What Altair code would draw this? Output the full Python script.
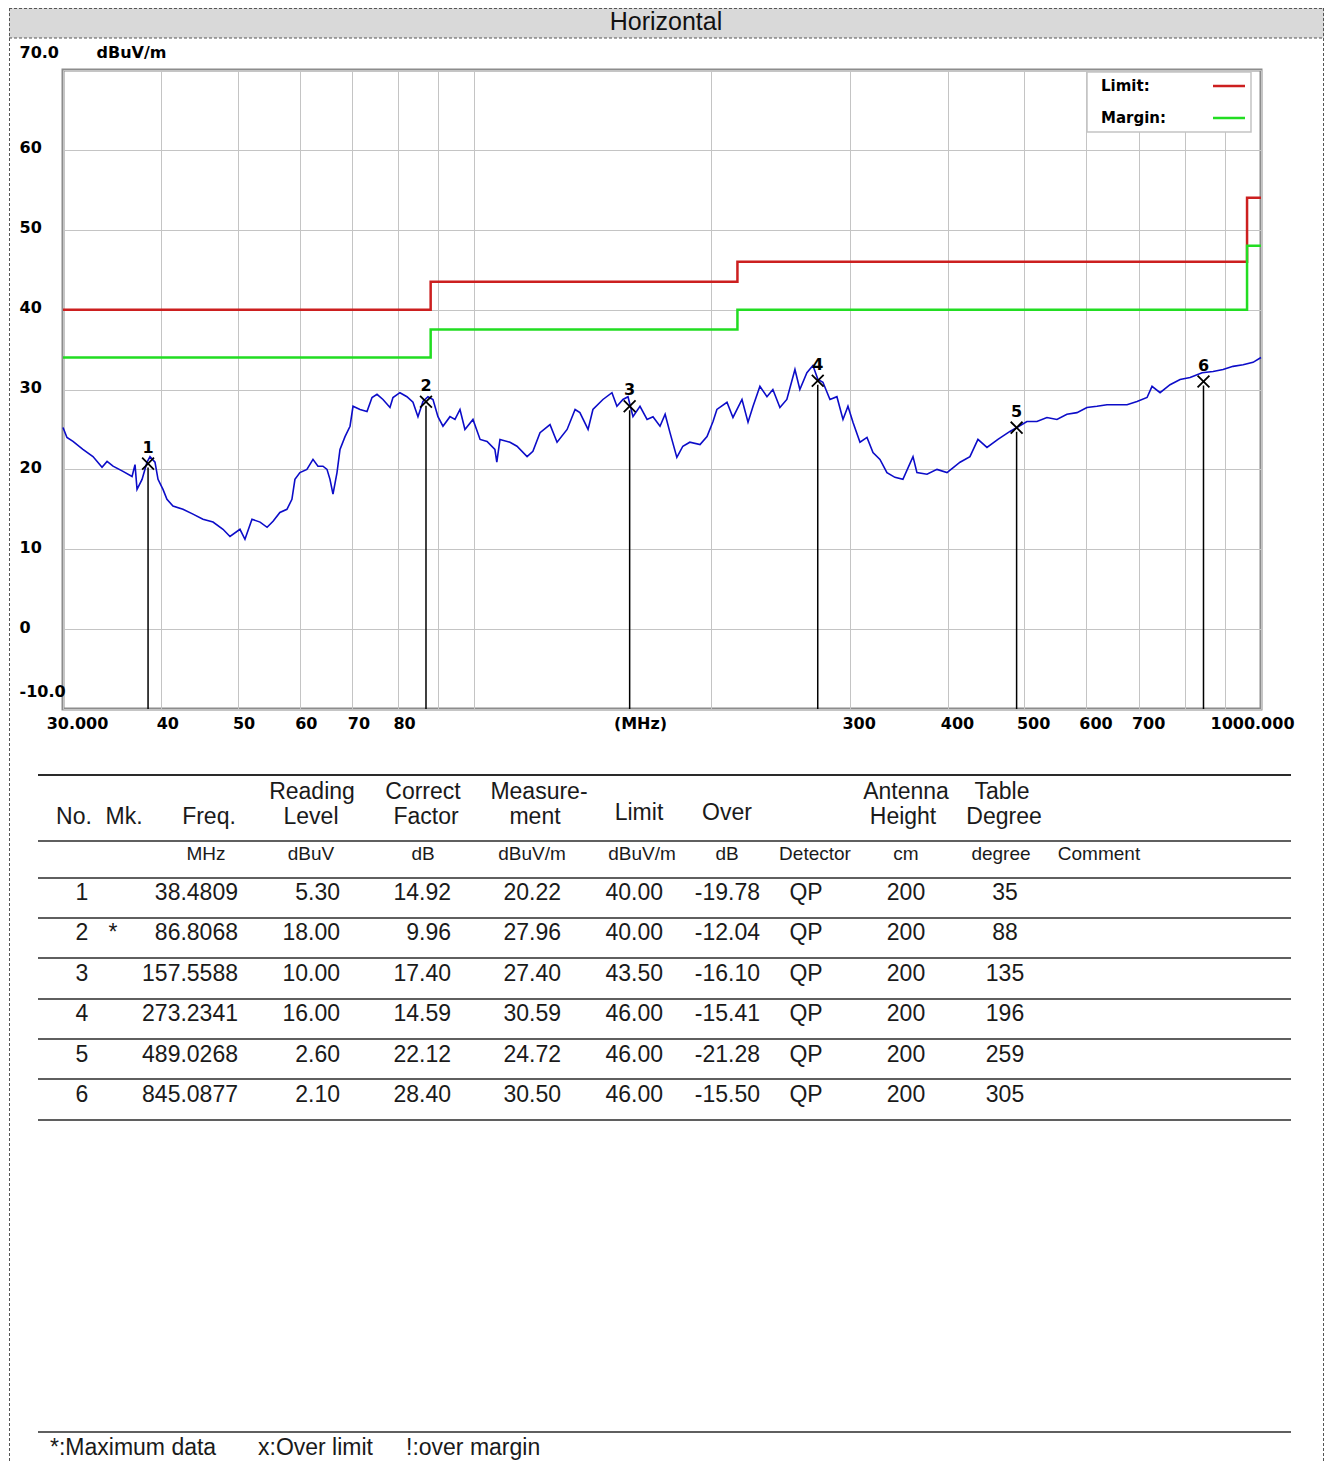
import altair as alt
import pandas as pd

# ------------------------------------------------------------------ data
trace_freq = [30.0, 30.35, 30.89, 31.8, 32.75, 33.63, 34.13, 34.73, 35.76, 36.72,
              37.04, 37.26, 37.81, 38.36, 38.7, 39.27, 39.62, 40.2, 40.67, 41.39,
              42.62, 43.89, 45.19, 46.54, 47.92, 48.91, 50.36, 51.1, 52.16, 53.41,
              54.52, 55.48, 56.6, 57.78, 58.63, 59.15, 60.02, 61.26, 62.36, 63.27,
              64.21, 64.97, 65.54, 66.12, 66.9, 67.49, 68.49, 69.5, 70.11, 71.56,
              73.04, 74.12, 75.21, 76.54, 78.12, 78.81, 80.43, 82.1, 83.56, 84.79,
              86.04, 87.31, 88.6, 89.9, 91.23, 93.12, 94.49, 95.89, 97.29, 99.6,
              101.7, 103.8, 106.2, 106.8, 107.8, 111.0, 113.3, 116.7, 118.7, 121.2,
              124.8, 127.4, 131.2, 134.3, 136.2, 139.5, 141.5, 145.7, 149.6, 151.8,
              154.5, 156.8, 159.1, 162.4, 165.8, 168.7, 172.2, 174.8, 177.3, 180.9,
              184.1, 187.9, 193.6, 197.6, 201.1, 203.4, 209.5, 213.2, 218.9, 222.8,
              226.1, 230.7, 235.5, 239.6, 244.6, 249.6, 255.6, 259.3, 264.7, 269.4,
              273.4, 277.4, 283.2, 289.0, 294.2, 298.5, 302.9, 309.2, 315.6, 321.2,
              327.8, 334.6, 342.5, 350.6, 361.1, 365.3, 376.2, 387.4, 398.9, 414.4,
              426.6, 436.7, 448.4, 463.0, 479.6, 489.5, 504.0, 519.0, 534.4, 550.3,
              566.6, 583.5, 600.8, 618.7, 637.1, 656.1, 675.6, 695.7, 716.4, 726.9,
              744.2, 766.3, 789.1, 812.6, 841.6, 869.1, 894.9, 921.5, 948.9, 977.0,
              1000.0]
trace_level = [25.25, 24.0, 23.5, 22.5, 21.6, 20.25, 21.0, 20.4, 19.75, 19.1,
               20.6, 17.5, 18.75, 20.9, 21.6, 20.9, 18.75, 17.5, 16.25, 15.4,
               15.0, 14.4, 13.75, 13.4, 12.5, 11.6, 12.5, 11.25, 13.75, 13.4,
               12.75, 13.5, 14.6, 15.0, 16.25, 18.75, 19.6, 20.0, 21.25, 20.4,
               20.4, 20.0, 18.75, 16.9, 19.6, 22.5, 24.1, 25.4, 27.9, 27.5,
               27.25, 29.0, 29.4, 28.75, 27.75, 29.0, 29.6, 29.1, 28.4, 26.6,
               28.5, 29.1, 28.75, 26.6, 25.4, 26.6, 26.25, 27.5, 25.0, 26.25,
               23.75, 23.5, 22.5, 20.9, 23.75, 23.4, 22.9, 21.6, 22.25, 24.6,
               25.6, 23.4, 25.0, 27.5, 27.1, 25.0, 27.5, 28.75, 29.6, 27.9,
               28.75, 29.1, 26.6, 27.9, 26.25, 26.6, 25.4, 26.9, 24.6, 21.5,
               22.9, 23.4, 23.1, 24.1, 26.0, 27.5, 28.4, 26.5, 28.75, 25.9,
               27.9, 30.4, 29.1, 30.0, 27.75, 28.75, 32.5, 30.0, 32.1, 33.0,
               31.25, 30.9, 28.75, 29.1, 26.25, 27.9, 25.9, 23.4, 24.0, 22.1,
               21.25, 19.6, 19.0, 18.75, 21.6, 19.6, 19.4, 20.0, 19.6, 20.9,
               21.6, 23.75, 22.75, 23.75, 24.75, 25.25, 26.0, 26.0, 26.5, 26.25,
               26.9, 27.1, 27.75, 27.9, 28.1, 28.1, 28.1, 28.5, 29.0, 30.4,
               29.6, 30.6, 31.25, 31.5, 32.1, 32.25, 32.5, 32.9, 33.1, 33.4,
               34.0]

limit_freq = [30, 88, 216, 960, 1000]
limit_level = [40.0, 43.5, 46.0, 54.0, 54.0]
margin_level = [34.0, 37.5, 40.0, 48.0, 48.0]
series_names = ["Limit:", "Margin:"]

x_tick_values = [30, 40, 50, 60, 70, 80, 90, 100, 200, 300, 400, 500, 600, 700, 800, 900, 1000]
y_tick_values = [-10, 0, 10, 20, 30, 40, 50, 60, 70]

col_no = ["1", "2", "3", "4", "5", "6"]
col_mk = ["", "*", "", "", "", ""]
col_freq = ["38.4809", "86.8068", "157.5588", "273.2341", "489.0268", "845.0877"]
col_reading = ["5.30", "18.00", "10.00", "16.00", "2.60", "2.10"]
col_correct = ["14.92", "9.96", "17.40", "14.59", "22.12", "28.40"]
col_meas = ["20.22", "27.96", "27.40", "30.59", "24.72", "30.50"]
col_limit = ["40.00", "40.00", "43.50", "46.00", "46.00", "46.00"]
col_over = ["-19.78", "-12.04", "-16.10", "-15.41", "-21.28", "-15.50"]
col_det = ["QP", "QP", "QP", "QP", "QP", "QP"]
col_height = ["200", "200", "200", "200", "200", "200"]
col_degree = ["35", "88", "135", "196", "259", "305"]

header_top = ["Reading", "Correct", "Measure-", "Antenna", "Table"]
header_bottom = ["No.", "Mk.", "Freq.", "Level", "Factor", "ment", "Height", "Degree"]
header_single = ["Limit", "Over"]
units = ["MHz", "dBuV", "dB", "dBuV/m", "dBuV/m", "dB", "Detector", "cm", "degree", "Comment"]
footer = ["*:Maximum data", "x:Over limit", "!:over margin"]
title_text = "Horizontal"

# ------------------------------------------------------------------ layout / style
OX, OY = 63, 70          # page position of the plot area
W, H = 1198, 639
TOTAL_W, TOTAL_H = 1317, 1455
RIGHT = 8 + TOTAL_W      # page x of the chart's right edge
BOTTOM = 8 + TOTAL_H     # page y of the chart's bottom edge


def vx(x):
    return x - OX


def vy(y):
    return y - OY


RED, GREEN, BLUE = "#cc1f1f", "#22dd22", "#0c0cc8"
GRID = "#c4c4c4"
TXT = "#1a1a1a"
AXF = "DejaVu Sans"
TF = "Liberation Sans"

one = pd.DataFrame({"k": [0]})


def label(text, x, y, size, align="center", font=TF, weight="normal", color=TXT):
    return alt.Chart(one).mark_text(
        text=text, align=align, baseline="middle", font=font,
        fontSize=size, fontWeight=weight, color=color
    ).encode(x=alt.value(vx(x)), y=alt.value(vy(y)))


def hrule(y, x1, x2, color="#2a2a2a", width=1.6, dash=None):
    kw = dict(color=color, strokeWidth=width)
    if dash:
        kw["strokeDash"] = dash
    return alt.Chart(one).mark_rule(**kw).encode(
        x=alt.value(vx(x1)), x2=alt.value(vx(x2)), y=alt.value(vy(y)))


def vrule(x, y1, y2, color="#2a2a2a", width=1.0, dash=None):
    kw = dict(color=color, strokeWidth=width)
    if dash:
        kw["strokeDash"] = dash
    return alt.Chart(one).mark_rule(**kw).encode(
        x=alt.value(vx(x)), y=alt.value(vy(y1)), y2=alt.value(vy(y2)))


# ------------------------------------------------------------------ plot
xs = alt.Scale(type="log", domain=[30, 1000], nice=False)
ys = alt.Scale(domain=[-10, 70], nice=False, zero=False)

x_axis = alt.Axis(
    values=x_tick_values,
    labelExpr="datum.value == 30 ? '30.000' : datum.value == 1000 ? '1000.000' : "
              "(datum.value == 90 || datum.value == 100 || datum.value == 200 || "
              "datum.value == 800 || datum.value == 900) ? '' : '' + datum.value",
    title="(MHz)", titleX=577, titleY=14, titleAlign="center", titleBaseline="middle",
    titleFont=AXF, titleFontWeight="bold", titleFontSize=16, titleColor="black",
    labelFont=AXF, labelFontWeight="bold", labelFontSize=16, labelColor="black",
    labelPadding=14, labelBaseline="middle", labelAlign="center",
    labelOffset={"condition": [{"test": "datum.value == 30", "value": 14},
                               {"test": "datum.value == 1000", "value": -9},
                               {"test": "datum.value > 100", "value": 9}],
                 "value": 6},
    ticks=False, tickSize=0, domain=False, grid=True, gridColor=GRID, gridWidth=1,
    labelOverlap=False,
)
y_axis = alt.Axis(
    values=y_tick_values,
    labelExpr="datum.value == 70 ? '70.0' : datum.value == -10 ? '-10.0' : '' + datum.value",
    title="dBuV/m", titleAngle=0, titleX=33, titleY=-18, titleAlign="left",
    titleBaseline="middle", titleFont=AXF, titleFontWeight="bold", titleFontSize=16,
    titleColor="black",
    labelFont=AXF, labelFontWeight="bold", labelFontSize=16, labelColor="black",
    labelAlign="left", labelPadding=44, labelBaseline="middle",
    labelOffset={"condition": {"test": "datum.value == 70 || datum.value == -10", "value": -18},
                 "value": -2},
    ticks=False, tickSize=0, domain=False, grid=True, gridColor=GRID, gridWidth=1,
    labelOverlap=False,
)

trace_df = pd.DataFrame({"freq": trace_freq, "level": trace_level})
trace = alt.Chart(trace_df).mark_line(color=BLUE, strokeWidth=1.6).encode(
    x=alt.X("freq:Q", scale=xs, axis=x_axis),
    y=alt.Y("level:Q", scale=ys, axis=y_axis),
)

lim_rows = []
for f, l, m in zip(limit_freq, limit_level, margin_level):
    lim_rows.append({"freq": f, "level": l, "series": series_names[0]})
    lim_rows.append({"freq": f, "level": m, "series": series_names[1]})
lim_df = pd.DataFrame(lim_rows)

limits = alt.Chart(lim_df).mark_line(interpolate="step-after", strokeWidth=2.5).encode(
    x=alt.X("freq:Q", scale=xs),
    y=alt.Y("level:Q", scale=ys),
    color=alt.Color("series:N", scale=alt.Scale(domain=series_names, range=[RED, GREEN]),
                    legend=None),
)

mk_df = pd.DataFrame({
    "freq": [float(v) for v in col_freq],
    "level": [float(v) for v in col_meas],
    "no": col_no,
})
mk_rules = alt.Chart(mk_df).mark_rule(color="black", strokeWidth=1.5).encode(
    x=alt.X("freq:Q", scale=xs), y=alt.Y("level:Q", scale=ys), y2=alt.datum(-10))
mk_x = alt.Chart(mk_df).mark_point(
    shape="M-1,-1L1,1M1,-1L-1,1", size=140, filled=False, color="black",
    strokeWidth=1.8, opacity=1, yOffset=-4
).encode(x=alt.X("freq:Q", scale=xs), y=alt.Y("level:Q", scale=ys))
mk_lab = alt.Chart(mk_df).mark_text(
    dy=-20, font=AXF, fontWeight="bold", fontSize=16, color="black"
).encode(x=alt.X("freq:Q", scale=xs), y=alt.Y("level:Q", scale=ys), text="no:N")

plot = alt.layer(trace, limits, mk_rules, mk_x, mk_lab)

# ------------------------------------------------------------------ legend box (label, then line sample)
legend_layers = [
    alt.Chart(one).mark_rect(fill="white", stroke="#c4c4c4", strokeWidth=1.5).encode(
        x=alt.value(vx(1087)), x2=alt.value(vx(1251)), y=alt.value(vy(72)), y2=alt.value(vy(132))),
]
for name, col, y in zip(series_names, [RED, GREEN], [86, 118]):
    legend_layers.append(label(name, 1101, y, 15, align="left", font=AXF, weight="bold", color="black"))
    legend_layers.append(hrule(y, 1213, 1245, color=col, width=2.5))

# ------------------------------------------------------------------ table
cols = [col_no, col_mk, col_freq, col_reading, col_correct, col_meas,
        col_limit, col_over, col_det, col_height, col_degree]
col_x = [82, 113, 238, 340, 451, 561, 663, 760, 806, 906, 1005]
col_align = ["center", "center", "right", "right", "right", "right",
             "right", "right", "center", "center", "center"]

tbl = {"row": list(range(len(col_no)))}
for i, c in enumerate(cols):
    tbl[f"c{i}"] = c
tbl_df = pd.DataFrame(tbl)
row_scale = alt.Scale(domain=[0, 5], range=[vy(893), vy(1095)], nice=False, zero=False)

table_layers = list(legend_layers)
for i in range(len(cols)):
    table_layers.append(
        alt.Chart(tbl_df).mark_text(
            align=col_align[i], baseline="middle", font=TF, fontSize=23, color=TXT
        ).encode(
            x=alt.value(vx(col_x[i])),
            y=alt.Y("row:Q", scale=row_scale, axis=None),
            text=f"c{i}:N",
        )
    )

for t, x in zip(header_top, [312, 423, 539, 906, 1002]):
    table_layers.append(label(t, x, 792, 23))
for t, x in zip(header_bottom, [74, 124, 209, 311, 426, 535, 903, 1004]):
    table_layers.append(label(t, x, 817, 23))
for t, x in zip(header_single, [639, 727]):
    table_layers.append(label(t, x, 813, 23))
for t, x in zip(units, [206, 311, 423, 532, 642, 727, 815, 906, 1001, 1099]):
    table_layers.append(label(t, x, 854, 19))
for t, x in zip(footer, [50, 258, 406]):
    table_layers.append(label(t, x, BOTTOM - 15, 23, align="left"))

for y in [775, 841, 878, 918, 958, 999, 1039, 1079, 1120, BOTTOM - 31]:
    table_layers.append(hrule(y, 38, 1291, width=2.0 if y == 775 else 1.6))

table = alt.layer(*table_layers)

# ------------------------------------------------------------------ page decoration
deco = [
    alt.Chart(one).mark_rect(color="#d9d9d9").encode(
        x=alt.value(vx(9)), x2=alt.value(vx(RIGHT - 1)), y=alt.value(vy(8)), y2=alt.value(vy(38))),
    hrule(8.5, 9, RIGHT - 1, color="#555555", width=1, dash=[3, 2]),
    hrule(38, 9, RIGHT - 1, color="#555555", width=1, dash=[3, 2]),
    vrule(9.5, 8, BOTTOM, color="#555555", width=1, dash=[3, 2]),
    vrule(RIGHT - 1.5, 8, BOTTOM, color="#555555", width=1, dash=[3, 2]),
    label(title_text, 666, 22, 25, color="#111111"),
]

chart = alt.layer(*deco, plot, table).resolve_scale(
    x="independent", y="independent", color="independent"
).properties(
    width=W, height=H,
    padding={"left": OX - 8, "top": OY - 8,
             "right": TOTAL_W - (OX - 8) - W, "bottom": TOTAL_H - (OY - 8) - H},
    autosize=alt.AutoSizeParams(type="none"),
    background="white",
).configure_view(stroke="#8c8c8c", strokeWidth=3)

chart.save("out.html", embed_options={"renderer": "svg", "actions": False})
